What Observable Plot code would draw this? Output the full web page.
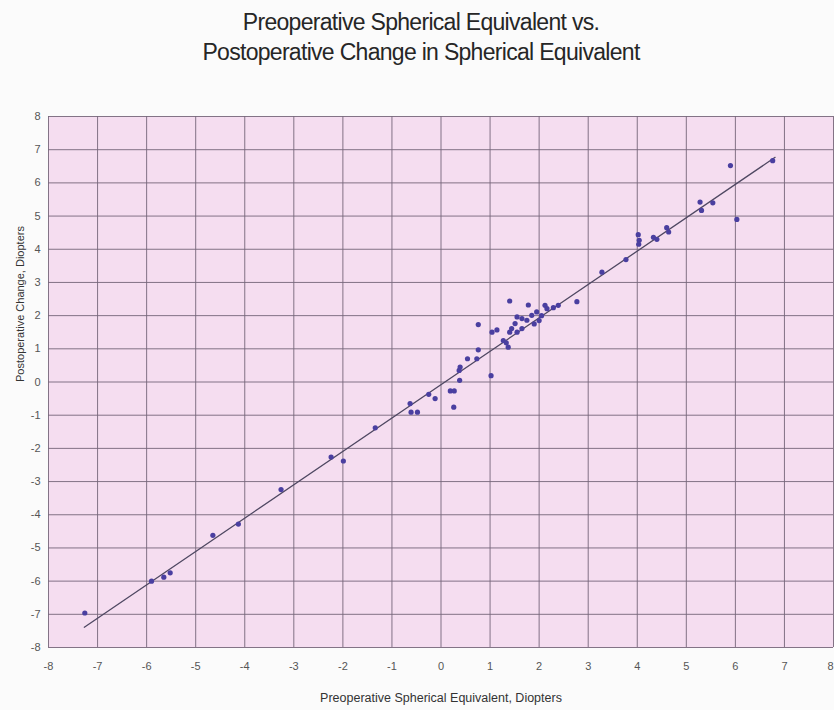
<!DOCTYPE html>
<html><head><meta charset="utf-8">
<script src="https://cdn.jsdelivr.net/npm/d3@7"></script>
<script src="https://cdn.jsdelivr.net/npm/@observablehq/plot@0.6"></script>
<style>
body{margin:0;background:#fbfbfb;width:834px;height:710px;overflow:hidden;font-family:"Liberation Sans Narrow","Liberation Sans",Arial,sans-serif}
#title{height:80px;text-align:center;font-size:23px;line-height:30px;color:#262626;padding-top:7px;padding-left:8px;box-sizing:border-box;letter-spacing:-0.7px}
</style></head><body>
<div id="title">Preoperative Spherical Equivalent vs.<br>Postoperative Change in Spherical Equivalent</div>
<div id="chart"></div>
<script>
const preop  = [-7.26,-5.90,-5.65,-5.52,-4.65,-4.13,-3.26,-2.24,-1.99,-1.34,-0.63,-0.61,-0.48,-0.25,-0.12,0.19,0.27,0.26,0.38,0.37,0.39,0.54,0.73,0.76,0.76,1.02,1.04,1.14,1.27,1.33,1.37,1.40,1.44,1.40,1.51,1.55,1.55,1.65,1.65,1.75,1.78,1.85,1.95,2.00,2.12,2.16,2.29,2.39,2.77,3.28,3.77,4.02,4.04,4.03,4.33,4.40,4.60,4.64,5.28,5.31,5.54,5.90,6.03,6.76,1.90,2.05];
const change = [-6.96,-6.00,-5.88,-5.75,-4.62,-4.28,-3.24,-2.26,-2.38,-1.38,-0.65,-0.91,-0.91,-0.37,-0.50,-0.27,-0.27,-0.76,0.05,0.35,0.45,0.70,0.70,0.97,1.73,0.19,1.50,1.57,1.25,1.18,1.05,1.50,1.61,2.44,1.76,1.50,1.96,1.61,1.91,1.86,2.32,2.01,2.11,1.85,2.31,2.21,2.24,2.31,2.42,3.31,3.69,4.44,4.27,4.15,4.36,4.30,4.65,4.52,5.42,5.17,5.40,6.52,4.90,6.67,1.75,2.00];
const fitX = [-7.27, 6.81];
const fitY = [-7.39, 6.77];
const tickValues = [-8,-7,-6,-5,-4,-3,-2,-1,0,1,2,3,4,5,6,7,8];
const xLabel = "Preoperative Spherical Equivalent, Diopters";
const yLabel = "Postoperative Change, Diopters";

const data = preop.map((x, i) => ({x, y: change[i]}));
const fit = fitX.map((x, i) => ({x, y: fitY[i]}));
const font = '"Liberation Sans Narrow","Liberation Sans",Arial,sans-serif';
const fmt = d => String(d);
const xInner = tickValues.slice(0, -1);
const xLast = tickValues.slice(-1);

const plot = Plot.plot({
  width: 834, height: 630,
  marginTop: 36, marginBottom: 63, marginLeft: 48, marginRight: 1,
  style: {fontFamily: font, fontSize: "11px", color: "#4a4a4a", background: "transparent", overflow: "visible"},
  x: {domain: [-8, 8], label: null},
  y: {domain: [-8, 8], label: null},
  marks: [
    Plot.frame({fill: "#f5ddf0", stroke: "none"}),
    Plot.gridX(tickValues, {stroke: "#76667a", strokeOpacity: 0.9, strokeWidth: 1}),
    Plot.gridY(tickValues, {stroke: "#76667a", strokeOpacity: 0.9, strokeWidth: 1}),
    Plot.axisX(xInner, {tickSize: 0, tickPadding: 15, fill: "#555", tickFormat: fmt}),
    Plot.axisX(xLast, {tickSize: 0, tickPadding: 15, fill: "#555", tickFormat: fmt, textAnchor: "end"}),
    Plot.axisY(tickValues, {tickSize: 0, tickPadding: 8, fill: "#555", tickFormat: fmt}),
    Plot.line(fit, {x: "x", y: "y", stroke: "#4f4862", strokeWidth: 1.3}),
    Plot.dot(data, {x: "x", y: "y", r: 2.6, fill: "#4a3fa0", stroke: "none"}),
    Plot.text([xLabel], {frameAnchor: "bottom", dy: 54, fontSize: 12.5, fill: "#333", text: d => d, style: "letter-spacing:-0.4px"}),
    Plot.text([yLabel], {frameAnchor: "left", rotate: -90, dx: -28, fontSize: 11, fill: "#333", text: d => d})
  ]
});
document.getElementById("chart").appendChild(plot);
</script>
</body></html>
